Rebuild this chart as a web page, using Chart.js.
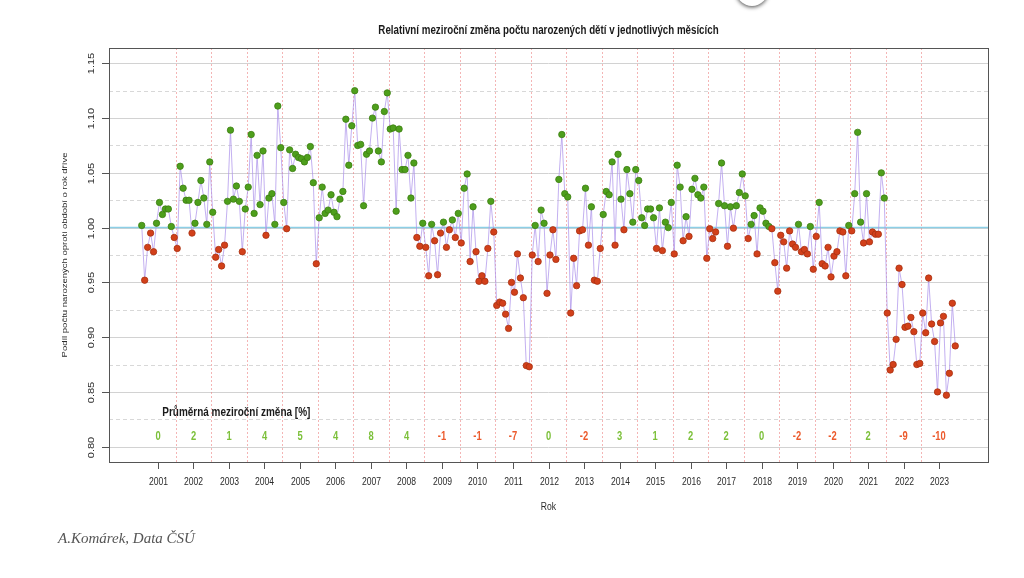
<!DOCTYPE html>
<html>
<head>
<meta charset="utf-8">
<script src="https://cdn.jsdelivr.net/npm/chart.js@4.4.0/dist/chart.umd.min.js"></script>
<style>
  html, body { margin: 0; padding: 0; background: #fff; }
  #wrap { position: relative; width: 1024px; height: 578px; overflow: hidden; }
  #source {
    position: absolute; left: 58px; top: 530px;
    font: italic 15px 'Liberation Serif', serif; color: #555;
  }
  #bubble {
    position: absolute; left: 736px; top: -26px; width: 32px; height: 32px;
    border-radius: 50%; background: #fff; box-shadow: 0 1px 4px rgba(0,0,0,0.75);
  }
</style>
</head>
<body>
<div id="wrap">
  <canvas id="births" width="1024" height="578"></canvas>
  <div id="source">A.Komárek, Data ČSÚ</div>
  <div id="bubble"></div>
</div>
<script>
// Ratio of births in a month vs. the same month one year earlier, Jan 2001 .. Dec 2023
const years = [2001, 2002, 2003, 2004, 2005, 2006, 2007, 2008, 2009, 2010, 2011, 2012,
               2013, 2014, 2015, 2016, 2017, 2018, 2019, 2020, 2021, 2022, 2023];

const ratio2001 = [1.002, 0.952, 0.982, 0.995, 0.978, 1.004, 1.023, 1.012, 1.017, 1.017, 1.001, 0.991];
const ratio2002 = [0.981, 1.056, 1.036, 1.025, 1.025, 0.995, 1.004, 1.023, 1.043, 1.027, 1.003, 1.060];
const ratio2003 = [1.014, 0.973, 0.980, 0.965, 0.984, 1.024, 1.089, 1.026, 1.038, 1.024, 0.978, 1.017];
const ratio2004 = [1.037, 1.085, 1.013, 1.066, 1.021, 1.070, 0.993, 1.027, 1.031, 1.003, 1.111, 1.073];
const ratio2005 = [1.023, 0.999, 1.071, 1.054, 1.067, 1.064, 1.063, 1.060, 1.064, 1.074, 1.041, 0.967];
const ratio2006 = [1.009, 1.037, 1.013, 1.016, 1.030, 1.014, 1.010, 1.026, 1.033, 1.099, 1.057, 1.093];
const ratio2007 = [1.125, 1.075, 1.076, 1.020, 1.067, 1.070, 1.100, 1.110, 1.070, 1.060, 1.106, 1.123];
const ratio2008 = [1.090, 1.091, 1.015, 1.090, 1.053, 1.053, 1.066, 1.027, 1.059, 0.991, 0.983, 1.004];
const ratio2009 = [0.982, 0.956, 1.003, 0.988, 0.957, 0.995, 1.005, 0.982, 0.998, 1.007, 0.991, 1.013];
const ratio2010 = [0.986, 1.036, 1.049, 0.969, 1.019, 0.978, 0.951, 0.956, 0.951, 0.981, 1.024, 0.996];
const ratio2011 = [0.929, 0.932, 0.931, 0.921, 0.908, 0.950, 0.941, 0.976, 0.954, 0.936, 0.874, 0.873];
const ratio2012 = [0.975, 1.002, 0.969, 1.016, 1.004, 0.940, 0.975, 0.998, 0.971, 1.044, 1.085, 1.031];
const ratio2013 = [1.028, 0.922, 0.972, 0.947, 0.997, 0.998, 1.036, 0.984, 1.019, 0.952, 0.951, 0.981];
const ratio2014 = [1.012, 1.033, 1.030, 1.060, 0.984, 1.067, 1.026, 0.998, 1.053, 1.031, 1.005, 1.053];
const ratio2015 = [1.043, 1.009, 1.002, 1.017, 1.017, 1.009, 0.981, 1.018, 0.979, 1.005, 1.000, 1.023];
const ratio2016 = [0.976, 1.057, 1.037, 0.988, 1.010, 0.992, 1.035, 1.045, 1.030, 1.027, 1.037, 0.972];
const ratio2017 = [0.999, 0.990, 0.996, 1.022, 1.059, 1.020, 0.983, 1.019, 0.9995, 1.020, 1.032, 1.049];
const ratio2018 = [1.029, 0.990, 1.003, 1.011, 0.976, 1.018, 1.015, 1.004, 1.001, 0.999, 0.968, 0.942];
const ratio2019 = [0.993, 0.987, 0.963, 0.997, 0.985, 0.982, 1.003, 0.978, 0.980, 0.976, 1.001, 0.962];
const ratio2020 = [0.992, 1.023, 0.967, 0.965, 0.982, 0.955, 0.974, 0.978, 0.997, 0.996, 0.956, 1.002];
const ratio2021 = [0.997, 1.031, 1.087, 1.005, 0.986, 1.031, 0.987, 0.996, 0.994, 0.994, 1.050, 1.027];
const ratio2022 = [0.922, 0.870, 0.875, 0.898, 0.963, 0.948, 0.909, 0.910, 0.918, 0.905, 0.875, 0.876];
const ratio2023 = [0.922, 0.904, 0.954, 0.912, 0.896, 0.850, 0.913, 0.919, 0.847, 0.867, 0.931, 0.892];

// average year-on-year change per year [%]
const yearlyChange = [0, 2, 1, 4, 5, 4, 8, 4, -1, -1, -7, 0, -2, 3, 1, 2, 2, 0, -2, -2, 2, -9, -10];

const yTicks = [0.80, 0.85, 0.90, 0.95, 1.00, 1.05, 1.10, 1.15];

const monthly = [ratio2001, ratio2002, ratio2003, ratio2004, ratio2005, ratio2006, ratio2007, ratio2008,
                 ratio2009, ratio2010, ratio2011, ratio2012, ratio2013, ratio2014, ratio2015, ratio2016,
                 ratio2017, ratio2018, ratio2019, ratio2020, ratio2021, ratio2022, ratio2023];

// points sit in the middle of each month
const points = [];
monthly.forEach((vals, yi) => {
    vals.forEach((v, m) => points.push({ x: years[yi] + (m + 0.5) / 12, y: v }));
});

const SX = 0.78;   // the original picture is squeezed horizontally
const GREEN = '#4e9f1c', RED = '#d2401a';

function txt(ctx, s, x, y, o) {
    ctx.save();
    ctx.translate(x, y);
    ctx.scale(o.sx || SX, 1);
    if (o.rot) ctx.rotate(o.rot);
    ctx.font = o.font;
    ctx.fillStyle = o.color || '#333';
    ctx.textAlign = o.align || 'center';
    ctx.textBaseline = o.base || 'middle';
    ctx.fillText(s, 0, 0);
    ctx.restore();
}

// grid, box, axes and texts in R style
const rStyle = {
    id: 'rStyle',
    beforeDatasetsDraw(chart) {
        const { ctx, chartArea: a, scales: { x, y } } = chart;
        ctx.save();
        ctx.lineWidth = 1;
        // horizontal grid: solid every 0.05, dashed in between
        yTicks.forEach(v => {
            let py = Math.round(y.getPixelForValue(v)) + 0.5;
            ctx.setLineDash([]);
            ctx.strokeStyle = '#d2d2d2';
            ctx.beginPath(); ctx.moveTo(a.left, py); ctx.lineTo(a.right, py); ctx.stroke();
            py = Math.round(y.getPixelForValue(v + 0.025)) + 0.5;
            if (py > a.top) {
                ctx.setLineDash([4, 3]);
                ctx.strokeStyle = '#d8d8d8';
                ctx.beginPath(); ctx.moveTo(a.left, py); ctx.lineTo(a.right, py); ctx.stroke();
            }
        });
        // year boundaries
        ctx.setLineDash([2, 2]);
        ctx.strokeStyle = 'rgba(235,120,120,0.55)';
        years.slice(1).forEach(yr => {
            const px = Math.round(x.getPixelForValue(yr)) + 0.5;
            ctx.beginPath(); ctx.moveTo(px, a.top); ctx.lineTo(px, a.bottom); ctx.stroke();
        });
        // reference line at 1
        ctx.setLineDash([]);
        ctx.strokeStyle = '#8ccfe6';
        ctx.lineWidth = 1.5;
        const p1 = y.getPixelForValue(1);
        ctx.beginPath(); ctx.moveTo(a.left, p1); ctx.lineTo(a.right, p1); ctx.stroke();
        ctx.restore();
    },
    afterDraw(chart) {
        const { ctx, chartArea: a, scales: { x, y } } = chart;
        ctx.save();
        ctx.strokeStyle = '#555';
        ctx.lineWidth = 1;
        ctx.strokeRect(Math.round(a.left) + 0.5, Math.round(a.top) + 0.5,
                       Math.round(a.right - a.left), Math.round(a.bottom - a.top));
        // x axis
        years.forEach(yr => {
            const px = Math.round(x.getPixelForValue(yr + 0.5)) + 0.5;
            ctx.beginPath(); ctx.moveTo(px, a.bottom); ctx.lineTo(px, a.bottom + 7); ctx.stroke();
            txt(ctx, String(yr), px, a.bottom + 20, { font: '11px "Liberation Sans"', color: '#2a2a2a' });
        });
        // y axis
        yTicks.forEach(v => {
            const py = Math.round(y.getPixelForValue(v)) + 0.5;
            ctx.beginPath(); ctx.moveTo(a.left, py); ctx.lineTo(a.left - 7, py); ctx.stroke();
            txt(ctx, v.toFixed(2), a.left - 17, py, { font: '11px "Liberation Sans"', color: '#2a2a2a', rot: -Math.PI / 2 });
        });
        txt(ctx, 'Relativní meziroční změna počtu narozených dětí v jednotlivých měsících',
            (a.left + a.right) / 2, 31, { font: 'bold 12.5px "Liberation Sans"', color: '#1a1a1a' });
        txt(ctx, 'Rok', (a.left + a.right) / 2, 507, { font: '11px "Liberation Sans"', color: '#2a2a2a' });
        txt(ctx, 'Podíl počtu narozených oproti období o rok dříve', 65, (a.top + a.bottom) / 2,
            { font: '9.5px "Liberation Sans"', color: '#2a2a2a', rot: -Math.PI / 2 });
        // yearly averages
        txt(ctx, 'Průměrná meziroční změna [%]', x.getPixelForValue(2001.62), y.getPixelForValue(0.831),
            { font: 'bold 12.8px "Liberation Sans"', color: '#1a1a1a', align: 'left' });
        yearlyChange.forEach((c, i) => {
            txt(ctx, String(c), x.getPixelForValue(years[i] + 0.5), y.getPixelForValue(0.8095),
                { font: 'bold 12px "Liberation Sans"', color: c >= 0 ? '#7cc03a' : '#ec5a2c' });
        });
        ctx.restore();
    }
};

new Chart(document.getElementById('births'), {
    type: 'line',
    data: {
        datasets: [{
            data: points,
            borderColor: 'rgba(175,150,235,0.75)',
            borderWidth: 1,
            pointRadius: 3.2,
            pointBorderWidth: 0.8,
            pointBackgroundColor: c => (c.raw && c.raw.y >= 1) ? GREEN : RED,
            pointBorderColor: c => (c.raw && c.raw.y >= 1) ? '#3c7f12' : '#a83010',
            tension: 0
        }]
    },
    options: {
        responsive: false,
        animation: false,
        layout: { padding: { left: 109, right: 36, top: 48, bottom: 116 } },
        plugins: { legend: { display: false }, tooltip: { enabled: false } },
        scales: {
            x: { type: 'linear', min: 2000.12, max: 2024.88, display: false },
            y: { min: 0.786, max: 1.164, display: false }
        }
    },
    plugins: [rStyle]
});
</script>
</body>
</html>
